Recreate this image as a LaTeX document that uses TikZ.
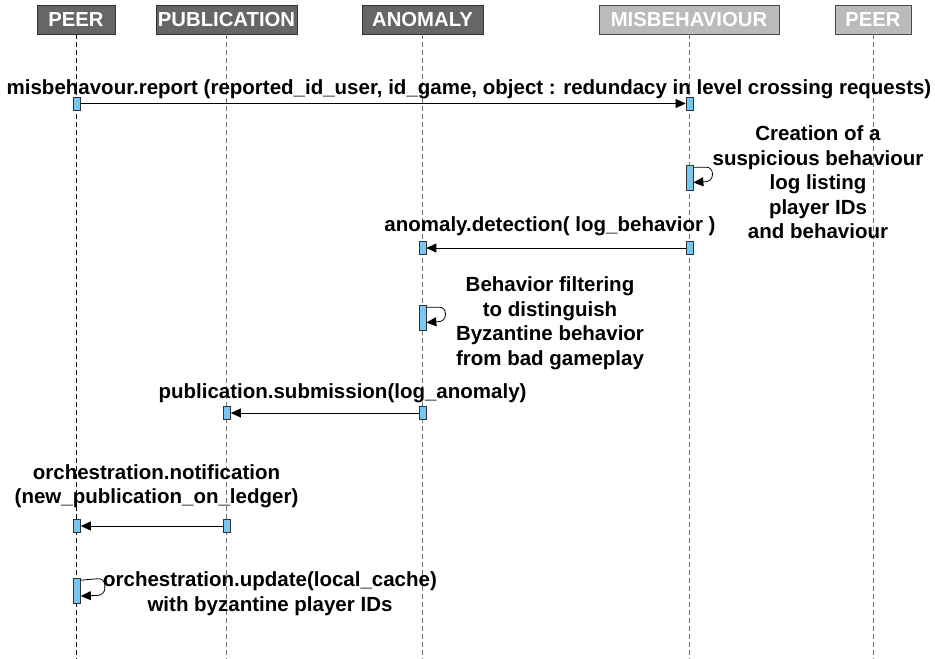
\documentclass[tikz,border=0pt]{standalone}
\usepackage{fontspec}
\setmainfont{Liberation Sans}
\usetikzlibrary{arrows.meta}
\definecolor{hdrdark}{HTML}{666666}
\definecolor{hdrlight}{HTML}{BBBBBB}
\definecolor{barblue}{HTML}{77C8F0}
\tikzset{
  hdr/.style={draw=black!80, line width=0.8pt, minimum height=29pt, inner sep=0pt,
    text=white, font=\fontsize{20.3}{23}\selectfont\bfseries},
  hdrd/.style={hdr, fill=hdrdark},
  hdrl/.style={hdr, fill=hdrlight, draw=black!70},
  lifeblack/.style={dashed, dash pattern=on 5pt off 3pt, line width=0.7pt, black},
  lifegray/.style={dash pattern=on 5pt off 3pt, line width=1pt, black!55},
  bar/.style={draw=black!80, fill=barblue, line width=0.7pt, minimum width=7pt, inner sep=0pt},
  sbar/.style={bar, minimum height=13pt},
  lbar/.style={bar, minimum height=25pt},
  msg/.style={-{Triangle[length=10pt,width=9pt]}, line width=0.8pt},
  lbl/.style={font=\fontsize{20.5}{24.5}\selectfont\bfseries, inner sep=0pt, align=center},
}
\begin{document}
\begin{tikzpicture}[x=1pt,y=-1pt]
\useasboundingbox (0,0) rectangle (935,659);
% headers
\node[hdrd, minimum width=78pt]  (peer) at (76,19.5) {PEER};
\node[hdrd, minimum width=141pt] (pub)  at (226.5,19.5) {PUBLICATION};
\node[hdrd, minimum width=121pt] (ano)  at (422.5,19.5) {ANOMALY};
\node[hdrl, minimum width=180pt] (mis)  at (689,19.5) {MISBEHAVIOUR};
\node[hdrl, minimum width=76pt]  (peerb) at (873,19.5) {PEER};
% lifeline ends
\coordinate (peerE) at (76,659);
\coordinate (pubE) at (226.5,659);
\coordinate (anoE) at (422.5,659);
\coordinate (misE) at (689,659);
\coordinate (peerbE) at (873,659);
\draw[lifeblack] (peer.south) -- (peerE);
\draw[lifegray] (pub.south) -- (pubE);
\draw[lifegray] (ano.south) -- (anoE);
\draw[lifegray] (mis.south) -- (misE);
\draw[lifegray] (peerb.south) -- (peerbE);
% message 1
\node[sbar] (b1a) at (77,103.5) {};
\node[sbar] (b1b) at (689.5,103.5) {};
\draw[msg] (b1a.east) -- (b1b.west);
\node[lbl] (l1) at (469,89) {misbehavour.report (reported\_id\_user, id\_game, object : redundacy in level crossing requests)};
% self message misbehaviour
\node[lbar] (b2) at (689.5,177.5) {};
\draw[msg, rounded corners=6pt] (b2.north east) ++(0,2.5) -- ++(19,0) -- ++(0,14) -- (b2.east |- 0,182.5);
\node[lbl] (l2) at (818,182.5) {Creation of a\\suspicious behaviour\\log listing\\player IDs\\and behaviour};
% message 2
\node[sbar] (b3a) at (422.5,248) {};
\node[sbar] (b3b) at (689.5,248) {};
\draw[msg] (b3b.west) -- (b3a.east);
\node[lbl] (l3) at (550,226) {anomaly.detection( log\_behavior )};
% self message anomaly
\node[lbar] (b4) at (422.5,317.5) {};
\draw[msg, rounded corners=6pt] (b4.north east) ++(0,2.5) -- ++(19,0) -- ++(0,14) -- (b4.east |- 0,322.5);
\node[lbl] (l4) at (550,323) {Behavior filtering\\to distinguish\\Byzantine behavior\\from bad gameplay};
% message 3
\node[sbar] (b5a) at (227,413) {};
\node[sbar] (b5b) at (422.5,413) {};
\draw[msg] (b5b.west) -- (b5a.east);
\node[lbl] (l5) at (342.5,393) {publication.submission(log\_anomaly)};
% message 4
\node[sbar] (b6a) at (77,526) {};
\node[sbar] (b6b) at (227,526) {};
\draw[msg] (b6b.west) -- (b6a.east);
\node[lbl] (l6) at (156.5,486) {orchestration.notification\\(new\_publication\_on\_ledger)};
% self message peer
\node[lbar] (b7) at (77,590.5) {};
\draw[msg, rounded corners=7pt] (b7.north east) ++(0,2.5) -- ++(24,-2) -- ++(0,17) -- (b7.east |- 0,596);
\node[lbl] (l7) at (270,593.5) {orchestration.update(local\_cache)\\with byzantine player IDs};
\end{tikzpicture}
\end{document}
